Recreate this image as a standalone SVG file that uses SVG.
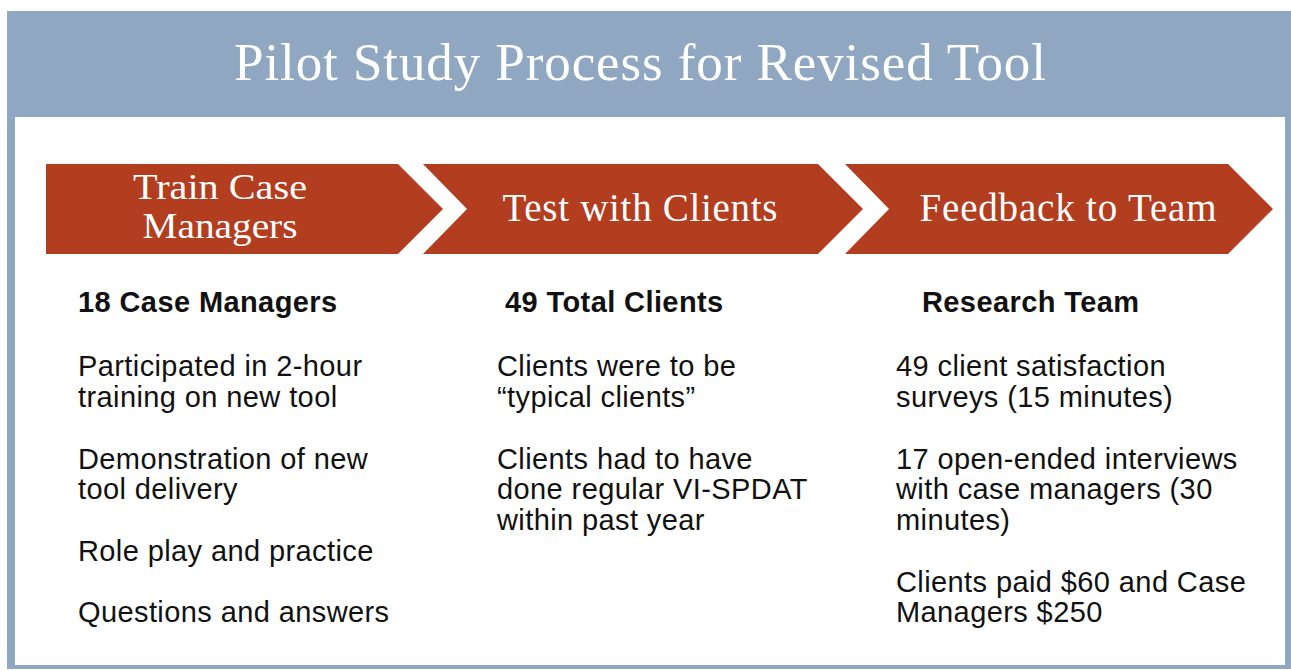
<svg xmlns="http://www.w3.org/2000/svg" width="1291" height="671" viewBox="0 0 1291 671">
<style>
.chev{fill:#b23d1f}
.ct{font-family:"Liberation Serif",serif;fill:#ffffff;font-size:39px}
.ct2{font-family:"Liberation Serif",serif;fill:#ffffff;font-size:35px}
.bt{font-family:"Liberation Sans",Arial,sans-serif;fill:#111111;font-size:29px;letter-spacing:0.4px}
.hd{font-weight:bold}
</style>
<rect x="0" y="0" width="1291" height="671" fill="#ffffff"/>
<rect x="7" y="11" width="1290" height="658" fill="#8fa7c0"/>
<rect x="15" y="117" width="1270" height="548" fill="#ffffff"/>
<text x="640" y="80" text-anchor="middle" font-family="Liberation Serif,serif" font-size="53" fill="#ffffff" textLength="812" lengthAdjust="spacing">Pilot Study Process for Revised Tool</text>
<g id="connectors"></g>
<g id="step1">
<polygon class="chev" points="46,164 398,164 443,209 398,254 46,254"/>
<text class="ct2" x="220" y="199" text-anchor="middle" textLength="174" lengthAdjust="spacingAndGlyphs">Train Case</text>
<text class="ct2" x="220" y="238" text-anchor="middle" textLength="155" lengthAdjust="spacingAndGlyphs">Managers</text>
</g>
<g id="step2">
<polygon class="chev" points="423,164 818,164 863,209 818,254 423,254 467,209"/>
<text class="ct" x="640" y="221" text-anchor="middle" textLength="275" lengthAdjust="spacing">Test with Clients</text>
</g>
<g id="step3">
<polygon class="chev" points="845,164 1228,164 1273,209 1228,254 845,254 889,209"/>
<text class="ct" x="1068" y="221" text-anchor="middle" textLength="297" lengthAdjust="spacing">Feedback to Team</text>
</g>
<g id="col1" class="bt">
<text class="hd" x="78" y="312">18 Case Managers</text>
<text x="78" y="376">Participated in 2-hour</text>
<text x="78" y="407">training on new tool</text>
<text x="78" y="469">Demonstration of new</text>
<text x="78" y="499">tool delivery</text>
<text x="78" y="561">Role play and practice</text>
<text x="78" y="622">Questions and answers</text>
</g>
<g id="col2" class="bt">
<text class="hd" x="505" y="312">49 Total Clients</text>
<text x="497" y="376">Clients were to be</text>
<text x="497" y="407">“typical clients”</text>
<text x="497" y="469">Clients had to have</text>
<text x="497" y="499">done regular VI-SPDAT</text>
<text x="497" y="530">within past year</text>
</g>
<g id="col3" class="bt">
<text class="hd" x="922" y="312">Research Team</text>
<text x="896" y="376">49 client satisfaction</text>
<text x="896" y="407">surveys (15 minutes)</text>
<text x="896" y="469">17 open-ended interviews</text>
<text x="896" y="499">with case managers (30</text>
<text x="896" y="530">minutes)</text>
<text x="896" y="592">Clients paid $60 and Case</text>
<text x="896" y="622">Managers $250</text>
</g>
</svg>
